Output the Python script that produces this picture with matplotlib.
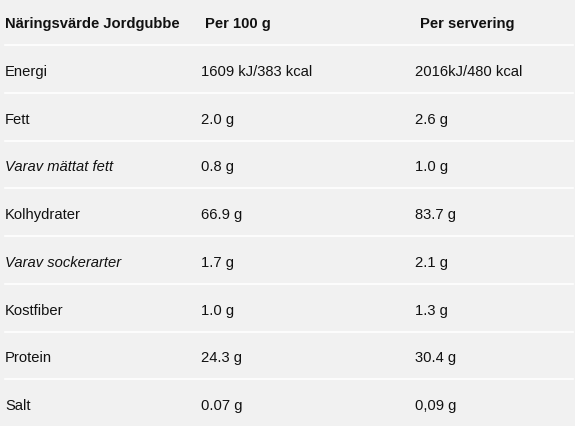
import matplotlib
matplotlib.use("Agg")
import matplotlib.pyplot as plt

headers = ["Näringsvärde Jordgubbe", "Per 100 g", "Per servering"]
nutrients = ["Energi", "Fett", "Varav mättat fett", "Kolhydrater", "Varav sockerarter", "Kostfiber", "Protein", "Salt"]
per100 = ["1609 kJ/383 kcal", "2.0 g", "0.8 g", "66.9 g", "1.7 g", "1.0 g", "24.3 g", "0.07 g"]
perserv = ["2016kJ/480 kcal", "2.6 g", "1.0 g", "83.7 g", "2.1 g", "1.3 g", "30.4 g", "0,09 g"]
italic = [False, False, True, False, True, False, False, False]

W, H = 575, 427
fig = plt.figure(figsize=(W/100, H/100), dpi=100, facecolor="#f1f1f1")
ax = fig.add_axes([0, 0, 1, 1])
ax.set_xlim(0, W); ax.set_ylim(H, 0); ax.axis("off")
ax.set_facecolor("#f1f1f1")

fam = ["Liberation Sans", "DejaVu Sans"]
fs = 10.6
rowh = 47.75
hx = [5, 205, 420]
cx = [5, 201, 415]
for x, t in zip(hx, headers):
    ax.text(x, 24, t, fontsize=fs, fontweight="bold", family=fam, va="center", color="#111")
for i in range(len(nutrients)):
    yline = 46 + i * rowh
    ax.plot([5, 573], [yline, yline], color="white", lw=1.2)
    y = 72 + i * rowh
    ax.text(cx[0], y, nutrients[i], fontsize=fs, family=fam, va="center", color="#111",
            style="italic" if italic[i] else "normal")
    ax.text(cx[1], y, per100[i], fontsize=fs, family=fam, va="center", color="#111")
    ax.text(cx[2], y, perserv[i], fontsize=fs, family=fam, va="center", color="#111")

fig.savefig("out.png", dpi=100, facecolor=fig.get_facecolor())
